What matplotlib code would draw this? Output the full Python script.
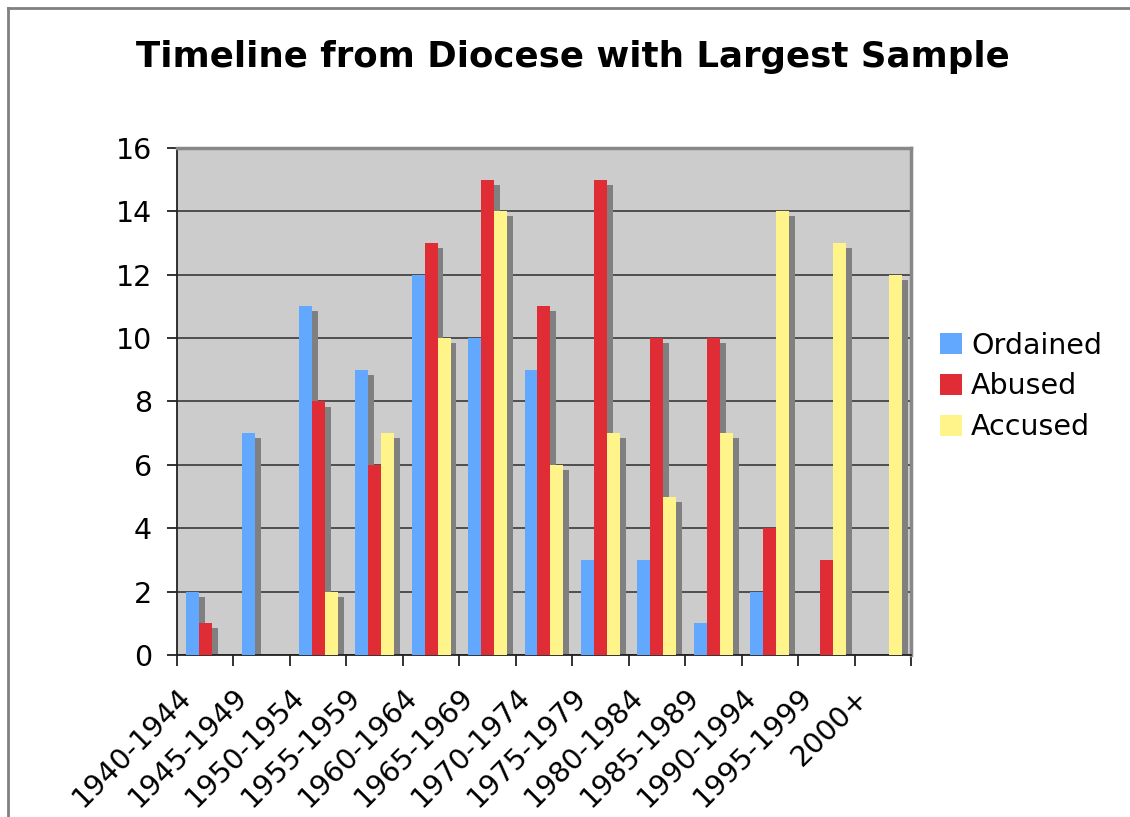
import matplotlib
matplotlib.use("Agg")
import numpy as np
import matplotlib.pyplot as plt
import matplotlib.patches as mpatches
import matplotlib.transforms as mtransforms
from matplotlib.lines import Line2D

# ---------------------------------------------------------------------------
# Data
# ---------------------------------------------------------------------------
periods = ["1940-1944", "1945-1949", "1950-1954", "1955-1959", "1960-1964",
           "1965-1969", "1970-1974", "1975-1979", "1980-1984", "1985-1989",
           "1990-1994", "1995-1999", "2000+"]
ordained = [2, 7, 11, 9, 12, 10, 9, 3, 3, 1, 2, 0, 0]
abused = [1, 0, 8, 6, 13, 15, 11, 15, 10, 10, 4, 3, 0]
accused = [0, 0, 2, 7, 10, 14, 6, 7, 5, 7, 14, 13, 12]

series = [("Ordained", ordained, "#63a8ff"),
          ("Abused", abused, "#e02d35"),
          ("Accused", accused, "#fff48a")]

# ---------------------------------------------------------------------------
# Plot
# ---------------------------------------------------------------------------
fig = plt.figure(figsize=(11.3, 8.17), dpi=100)
ax = fig.add_axes([0.1566, 0.1983, 0.8062 - 0.1566, 0.8189 - 0.1983])

ax.set_facecolor("#cccccc")
x = np.arange(len(periods))
w = 0.23
offsets = [-w, 0, w]
dx, dy = 0.105, 0.16   # shadow offset (right, down)

# shadows first, bars on top
for (name, vals, col), off in zip(series, offsets):
    vals = np.array(vals, dtype=float)
    ax.bar(x + off + dx, np.clip(vals - dy, 0, None), width=w,
           color="#808080", zorder=2, linewidth=0)
for (name, vals, col), off in zip(series, offsets):
    ax.bar(x + off, vals, width=w, color=col, zorder=3, linewidth=0,
           label=name)

ax.set_xlim(-0.5, len(periods) - 0.5)
ax.set_ylim(0, 16)
ax.set_yticks(range(0, 17, 2))
ax.yaxis.grid(True, color="#444444", linewidth=1.3, zorder=1)
ax.set_axisbelow(True)

ax.set_xticks(x)
ax.set_xticklabels(periods, rotation=45, ha="right", va="top",
                   rotation_mode="anchor", fontsize=20.5)
ax.set_xticks(np.arange(-0.5, len(periods)), minor=True)
ax.tick_params(axis="x", which="major", length=0, pad=20)
ax.tick_params(axis="x", which="minor", length=8, width=1.3, color="#222222")
ax.tick_params(axis="y", length=7, width=1.3, color="#222222",
               labelsize=20.5, pad=11)
shift = mtransforms.ScaledTranslation(-28 / 100, 0, fig.dpi_scale_trans)
for lbl in ax.get_xticklabels():
    lbl.set_transform(lbl.get_transform() + shift)

ax.spines["left"].set_color("#222222")
ax.spines["bottom"].set_color("#222222")
ax.spines["left"].set_linewidth(1.3)
ax.spines["bottom"].set_linewidth(1.3)
ax.spines["top"].set_color("#888888")
ax.spines["right"].set_color("#888888")
ax.spines["top"].set_linewidth(2.5)
ax.spines["right"].set_linewidth(2.5)

fig.text(0.507, 0.930, "Timeline from Diocese with Largest Sample",
         ha="center", va="center", fontsize=25.7, fontweight="bold")

handles = [mpatches.Patch(facecolor=c, edgecolor="none", label=n)
           for n, _, c in series]
fig.legend(handles=handles, loc="center left", bbox_to_anchor=(0.832, 0.527),
           frameon=False, fontsize=20.5, handlelength=0.78, handleheight=0.78,
           handletextpad=0.3, labelspacing=0.45, borderaxespad=0,
           borderpad=0)

# outer chart frame (left and top edges visible)
fig.add_artist(Line2D([0.0075, 0.0075], [0, 0.99], color="#808080",
                      linewidth=2, transform=fig.transFigure))
fig.add_artist(Line2D([0.0075, 1.0], [0.99, 0.99], color="#808080",
                      linewidth=2, transform=fig.transFigure))

fig.savefig("out.png", dpi=100, facecolor="white")
